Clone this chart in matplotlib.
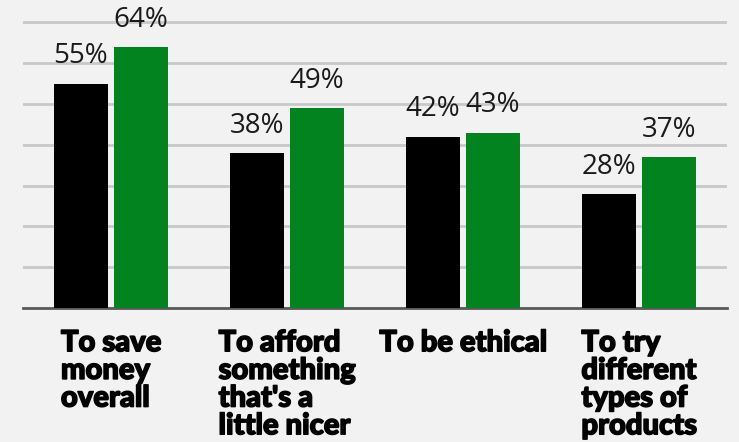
import matplotlib.pyplot as plt
import matplotlib.patheffects as pe
import numpy as np
from matplotlib import font_manager as fm

categories = ["To save\nmoney\noverall", "To afford\nsomething\nthat's a\nlittle nicer",
              "To be ethical", "To try\ndifferent\ntypes of\nproducts"]
series_a = [55, 38, 42, 28]
series_b = [64, 49, 43, 37]

# Heaviest Lato face for the category labels
black_path = None
for f in fm.fontManager.ttflist:
    if f.fname.endswith("Lato-Black.ttf"):
        black_path = f.fname
        break
if black_path:
    cat_font = fm.FontProperties(fname=black_path, size=21)
else:
    cat_font = fm.FontProperties(family="Lato", weight="black", size=21)

bg = "#f2f2f2"
fig = plt.figure(figsize=(7.39, 4.42), dpi=100, facecolor=bg)
ax = fig.add_axes([23 / 739, 1 - 308 / 442, 704 / 739, 308 / 442], facecolor=bg)

x = np.arange(len(categories))
w = 0.307
off = 0.1705
bars_a = ax.bar(x - off, series_a, w, color="#000000", zorder=3)
bars_b = ax.bar(x + off, series_b, w, color="#038220", zorder=3)

for bars, vals in ((bars_a, series_a), (bars_b, series_b)):
    for b, v in zip(bars, vals):
        ax.annotate(f"{v}%", (b.get_x() + b.get_width() / 2, v),
                    xytext=(0, 9.5), textcoords="offset points",
                    ha="center", va="bottom", fontsize=20,
                    family="Open Sans", color="#1a1a1a")

ax.set_xlim(-0.5, 3.5)
ax.set_ylim(0, 75.5)
ax.set_yticks(np.arange(10, 80, 10))
ax.yaxis.grid(True, color="#c8c8c8", linewidth=2, zorder=0)
ax.tick_params(left=False, bottom=False, labelleft=False, labelbottom=False)
for s in ("top", "right", "left"):
    ax.spines[s].set_visible(False)
ax.spines["bottom"].set_color("#595959")
ax.spines["bottom"].set_linewidth(2)

thick = [pe.withStroke(linewidth=1.1, foreground="#000000")]
for xi, cat in zip(x, categories):
    ax.annotate(cat, (xi, 0), xytext=(0, -16), textcoords="offset points",
                ha="center", va="top", multialignment="left",
                fontproperties=cat_font, linespacing=1.08,
                color="#000000", annotation_clip=False, path_effects=thick)

fig.savefig("out.png", dpi=100, facecolor=bg)
